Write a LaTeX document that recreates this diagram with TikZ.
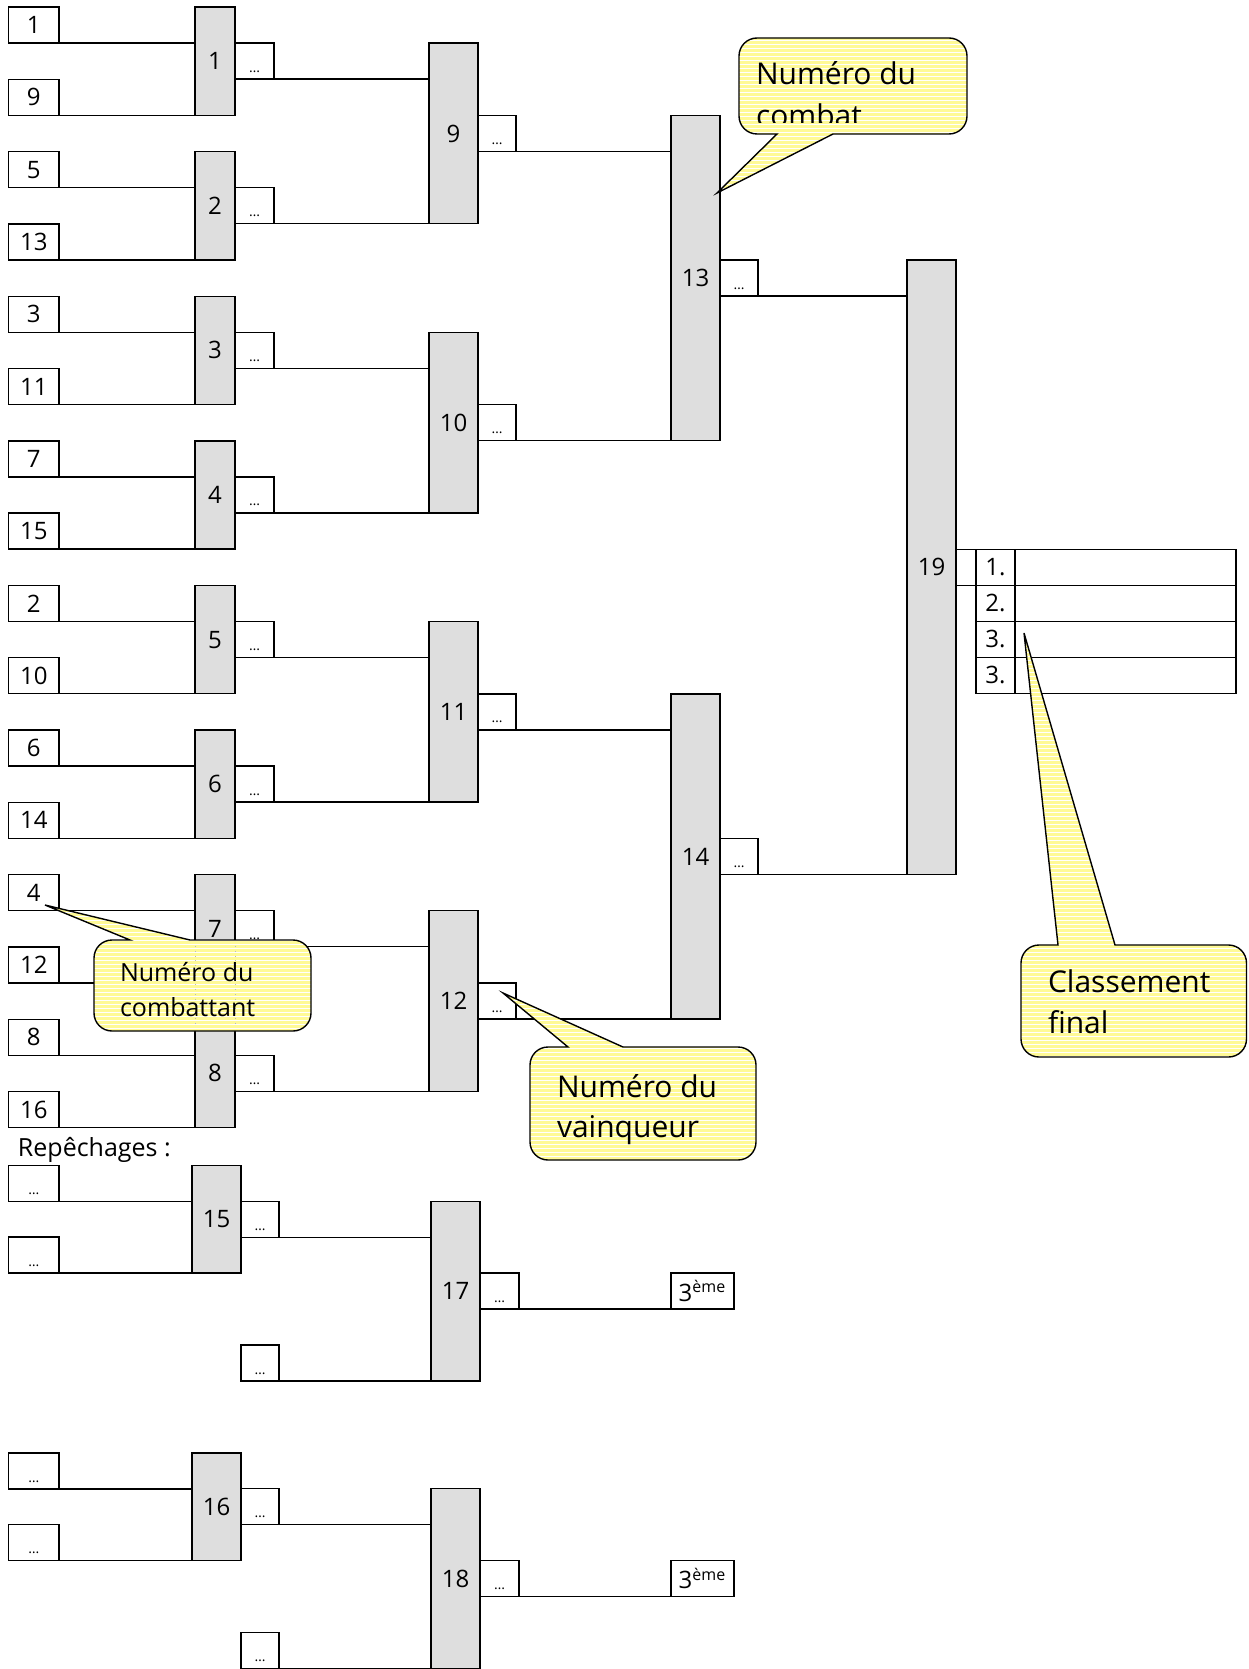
\documentclass[tikz,border=0pt]{standalone}
\usepackage{fontspec}
\setmainfont{Open Sans}
\usetikzlibrary{calc,patterns.meta}
\definecolor{barGray}{RGB}{222,222,222}
\definecolor{callYellow}{RGB}{255,250,150}
\newcommand\mydots{\raisebox{-5.5pt}[0pt][0pt]{\fontsize{7}{8}\selectfont …}}
\tikzset{
  every node/.style={inner sep=0pt, outer sep=0pt},
  conn/.style={line width=0.7pt},
  compbox/.style={draw, line width=0.7pt, fill=white, minimum width=25.25pt, minimum height=18pt, font=\fontsize{12}{14}\selectfont},
  barbox/.style={draw, line width=0.7pt, fill=barGray, font=\fontsize{12}{14}\selectfont},
  winbox/.style={draw, line width=0.7pt, fill=white, minimum height=18pt},
  cell/.style={draw, line width=0.6pt, minimum height=18pt, font=\fontsize{12}{14}\selectfont},
  callout/.style={draw, line width=0.7pt, preaction={fill=callYellow}, pattern={Lines[angle=0,distance=2pt,line width=0.5pt]}, pattern color=white},
  bigtext/.style={anchor=base west, font=\fontsize{15}{18}\selectfont},
  midtext/.style={anchor=base west, font=\fontsize{12.5}{15}\selectfont},
}
\begin{document}
\begin{tikzpicture}[x=0.5pt,y=-0.5pt]
\useasboundingbox (0,0) rectangle (1248,1669);
% competitors
\foreach \n [count=\i from 0] in {1,9,5,13,3,11,7,15,2,10,6,14,4,12,8,16} {
  \pgfmathsetmacro\cy{25+72.3*\i}
  \node[compbox] (c\i) at (33.75,\cy) {\n};
}
% round 1
\foreach \k in {0,...,7} {
  \pgfmathsetmacro\cy{61.15+144.6*\k}
  \pgfmathtruncatemacro\lab{\k+1}
  \node[barbox, minimum width=20pt, minimum height=54.15pt] (m\lab) at (215,\cy) {\lab};
  \node[winbox, minimum width=19.5pt] (w\lab) at (254.5,\cy) {\mydots};
}
\foreach \i in {0,...,15} {
  \pgfmathtruncatemacro\k{int(\i/2)+1}
  \draw[conn] (c\i.south east) -- (m\k.west |- c\i.south);
}
% round 2
\foreach \j in {0,...,3} {
  \pgfmathsetmacro\cy{133.45+289.2*\j}
  \pgfmathtruncatemacro\lab{\j+9}
  \pgfmathtruncatemacro\ua{2*\j+1}
  \pgfmathtruncatemacro\ub{2*\j+2}
  \node[barbox, minimum width=24.5pt, minimum height=90.3pt] (m\lab) at (453.5,\cy) {\lab};
  \node[winbox, minimum width=19pt] (w\lab) at (497,\cy) {\mydots};
  \draw[conn] (w\ua.south east) -- (m\lab.west |- w\ua.south);
  \draw[conn] (w\ub.south east) -- (m\lab.west |- w\ub.south);
}
% round 3
\foreach \j in {0,1} {
  \pgfmathsetmacro\cy{278.05+578.4*\j}
  \pgfmathtruncatemacro\lab{\j+13}
  \pgfmathtruncatemacro\ua{2*\j+9}
  \pgfmathtruncatemacro\ub{2*\j+10}
  \node[barbox, minimum width=24.5pt, minimum height=162.6pt] (m\lab) at (695.5,\cy) {\lab};
  \node[winbox, minimum width=19pt] (w\lab) at (739,\cy) {\mydots};
  \draw[conn] (w\ua.south east) -- (m\lab.west |- w\ua.south);
  \draw[conn] (w\ub.south east) -- (m\lab.west |- w\ub.south);
}
% final
\node[barbox, minimum width=24.5pt, minimum height=307.2pt] (m19) at (931.5,567.25) {19};
\draw[conn] (w13.south east) -- (m19.west |- w13.south);
\draw[conn] (w14.south east) -- (m19.west |- w14.south);
% ranking table
\node[cell, minimum width=10pt] (t0) at (966,567.25) {};
\foreach \r/\t in {1/1.,2/2.,3/3.,4/3.} {
  \pgfmathsetmacro\cy{567.25+36*(\r-1)}
  \node[cell, minimum width=19.5pt] (k\r) at (995.5,\cy) {\t};
  \node[cell, minimum width=110.5pt] (n\r) at (1125.5,\cy) {};
}
% repechages
\node[anchor=base west, font=\fontsize{12.5}{15}\selectfont] (rep) at (18,1156) {Repêchages :};
\foreach \off/\a/\b/\c in {0/15/17/1, 287.5/16/18/2} {
  \pgfmathsetmacro\ya{1183.5+\off}
  \pgfmathsetmacro\yb{1255+\off}
  \pgfmathsetmacro\ym{1219.25+\off}
  \pgfmathsetmacro\yl{1363+\off}
  \pgfmathsetmacro\yf{1291.1+\off}
  \node[compbox] (ra\c) at (33.75,\ya) {\mydots};
  \node[compbox] (rb\c) at (33.75,\yb) {\mydots};
  \node[barbox, minimum width=24.5pt, minimum height=53.75pt] (m\a) at (216.5,\ym) {\a};
  \node[winbox, minimum width=19pt] (w\a) at (260,\ym) {\mydots};
  \node[winbox, minimum width=19pt] (rl\c) at (260,\yl) {\mydots};
  \node[barbox, minimum width=24.5pt, minimum height=89.9pt] (m\b) at (455.5,\yf) {\b};
  \node[winbox, minimum width=19.5pt] (w\b) at (499.5,\yf) {\mydots};
  \node[winbox, minimum width=31.5pt, font=\fontsize{12}{14}\selectfont] (th\c) at (702.5,\yf) {3\textsuperscript{ème}};
  \draw[conn] (ra\c.south east) -- (m\a.west |- ra\c.south);
  \draw[conn] (rb\c.south east) -- (m\a.west |- rb\c.south);
  \draw[conn] (w\a.south east) -- (m\b.west |- w\a.south);
  \draw[conn] (rl\c.south east) -- (m\b.west |- rl\c.south);
  \draw[conn] (w\b.south east) -- (th\c.south west);
}
% callout 1: numero du combat
\path[callout] (833,134) [rounded corners=9pt] -- (967,134) -- (967,38) -- (739,38) -- (739,134) [sharp corners] -- (777,134) -- (717,193) -- cycle;
\begin{scope}
  \clip (739,38) rectangle (967,123);
  \node[bigtext] (q1a) at (756,85) {Numéro du};
  \node[bigtext] (q1b) at (756,127) {combat};
\end{scope}
% callout 2: numero du combattant
\path[callout] (190,940) [rounded corners=9pt] -- (311,940) -- (311,1031) -- (94,1031) -- (94,940) [sharp corners] -- (130,940) -- (45,905) -- cycle;
\draw[gray!55, dotted, line width=0.4pt] (195,946) -- (195,1024) (235,946) -- (235,1024);
\node[midtext] (q2a) at (120,981) {Numéro du};
\node[midtext] (q2b) at (120,1016) {combattant};
% callout 3: numero du vainqueur
\path[callout] (623,1047) [rounded corners=9pt] -- (756,1047) -- (756,1160) -- (530,1160) -- (530,1047) [sharp corners] -- (568,1047) -- (503,993) -- cycle;
\node[bigtext] (q3a) at (557,1097) {Numéro du};
\node[bigtext] (q3b) at (557,1137) {vainqueur};
% callout 4: classement final
\path[callout] (1115,945) [rounded corners=9pt] -- (1246.5,945) -- (1246.5,1057) -- (1021,1057) -- (1021,945) [sharp corners] -- (1058,945) -- (1024,633) -- cycle;
\node[bigtext] (q4a) at (1048,992) {Classement};
\node[bigtext] (q4b) at (1048,1033) {final};
\end{tikzpicture}
\end{document}
